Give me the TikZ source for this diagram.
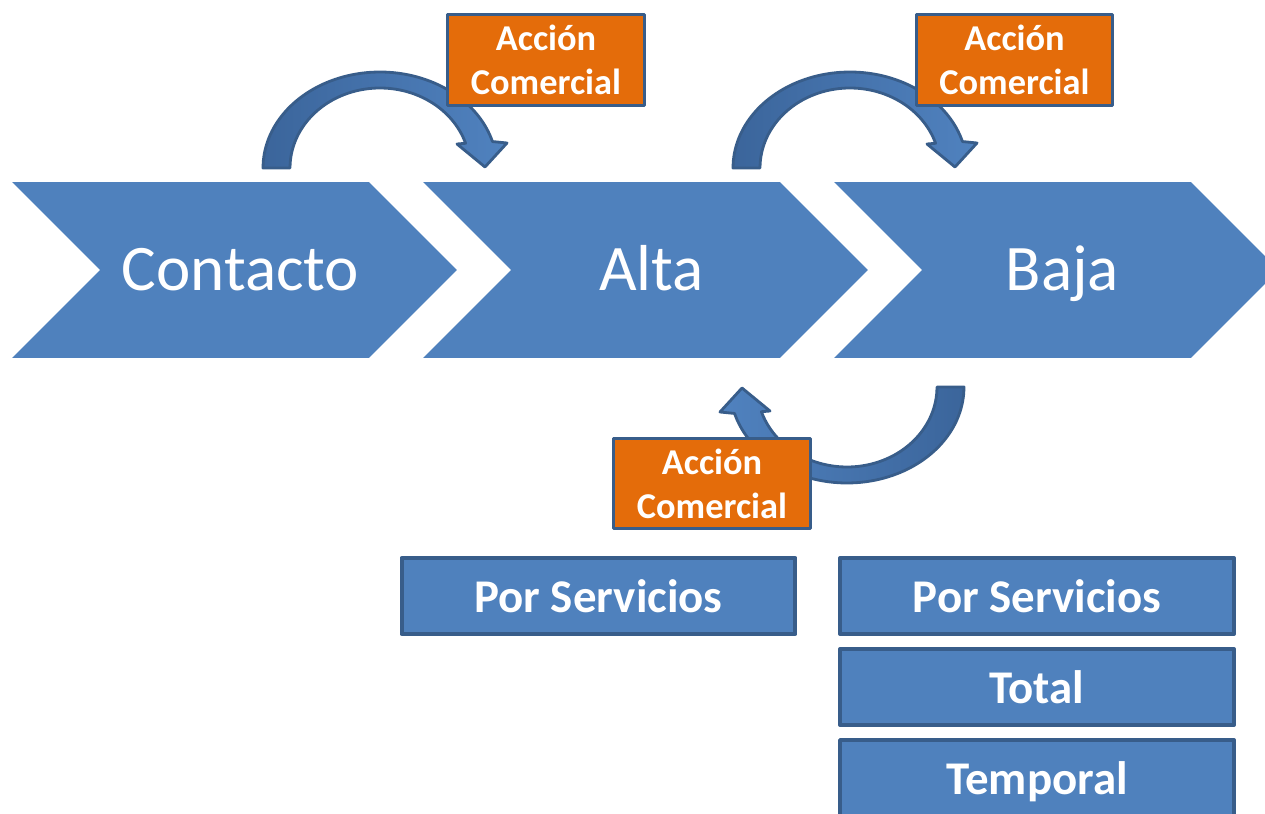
\documentclass[tikz,border=0pt]{standalone}
\usepackage{fontspec}
\setmainfont{Carlito}
\usetikzlibrary{shapes.symbols,positioning}

\definecolor{chevblue}{HTML}{4F81BD}
\definecolor{edgeblue}{HTML}{385D8A}
\definecolor{actorange}{HTML}{E46C0A}
\definecolor{arrowdark}{HTML}{3B659B}
\definecolor{arrowlight}{HTML}{5082BF}

\begin{document}
\begin{tikzpicture}[x=0.02cm, y=-0.02cm, line join=round,
  stagebox/.style={signal, signal to=east, signal from=west, signal pointer angle=90,
    fill=chevblue, inner sep=0pt, outer sep=0pt, minimum width=8.9cm, minimum height=3.52cm,
    text=white, font=\fontsize{37}{44}\selectfont, text height=23.5pt, text depth=0pt,
    execute at begin node=\hspace{0.24cm}},
  actionbox/.style={rectangle, fill=actorange, draw=edgeblue, line width=1.7pt,
    minimum width=3.94cm, minimum height=1.82cm, inner sep=0pt, align=center,
    text=white, font=\bfseries\fontsize{20.7}{25}\selectfont},
  kindbox/.style={rectangle, fill=chevblue, draw=edgeblue, line width=2.3pt,
    minimum width=7.88cm, minimum height=1.52cm, inner sep=0pt,
    text=white, font=\bfseries\fontsize{26.7}{32}\selectfont, text height=19pt, text depth=0pt},
  turnarrow/.style={draw=edgeblue, line width=1.6pt}
]

\clip (0,0) rectangle (1265,814);

% bent arrow, coordinates taken round the centre of its arc
\def\bendarrow{plot[domain=180:344, samples=40, smooth] ({117*cos(\x)}, {96*sin(\x)})
  -- (127,-25) -- (105,-1) -- (77,-24)
  -- plot[domain=342:180, samples=40, smooth] ({90*cos(\x)}, {80*sin(\x)}) -- cycle}

% stages
\node[stagebox] (cont) at (234.5,270) {Contacto};
\node[stagebox] (alta) at (645.5,270) {Alta};
\node[stagebox] (baja) at (1056.5,270) {Baja};

% arrows between stages
\shadedraw[turnarrow, shift={(380,168)}, left color=arrowdark, right color=arrowlight] \bendarrow;
\shadedraw[turnarrow, shift={(850,168)}, left color=arrowdark, right color=arrowlight] \bendarrow;
\shadedraw[turnarrow, shift={(847,387)}, rotate=180, left color=arrowlight, right color=arrowdark] \bendarrow;

% commercial actions
\node[actionbox] (act1) at (546,60) {Acción\\Comercial};
\node[actionbox] (act2) at (1014.5,60) {Acción\\Comercial};
\node[actionbox] (act3) at (712,483.5) {Acción\\Comercial};

% kinds of alta / baja
\node[kindbox] (altaserv) at (598.5,596) {Por Servicios};
\node[kindbox] (bajaserv) at (1037,596) {Por Servicios};
\node[kindbox, below=0.22cm of bajaserv] (bajatot) {Total};
\node[kindbox, below=0.22cm of bajatot] (bajatemp) {Temporal};

\end{tikzpicture}
\end{document}
